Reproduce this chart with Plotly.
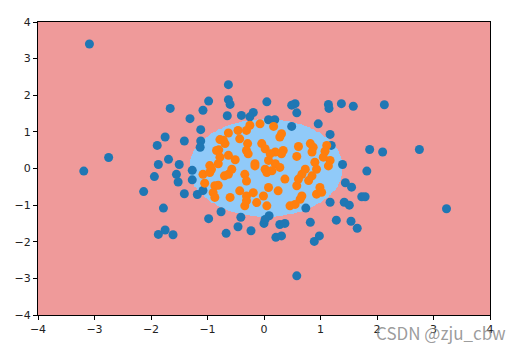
import numpy as np
import plotly.graph_objects as go

# ---- data ----
blue_x = [-3.09, -3.19, -2.75, -2.13, -1.94, -1.87, -1.89, -1.75, -1.66, -1.69, -1.78, -1.87, -1.75, -1.61,
          2.13, 2.10, 2.75, 3.23, -0.63, -0.98, -1.08, -0.63, -0.60, -1.31, -0.65, -0.40, -0.19, -0.25,
          0.05, 0.08, 0.19, -1.12, -1.41, -1.12, -1.13, 0.49, 0.55, 0.58, 1.14, 1.15, 1.37, 1.58,
          0.49, 0.96, 1.17, 1.19, 1.87, -1.50, -1.55, -1.52, -1.27, -1.27, -1.41, -1.18, -1.08,
          -0.76, -0.98, -0.41, -0.46, -0.23, 0.00, -0.67, 1.39, 1.82, 1.44, 1.55, 1.73, 1.79,
          1.17, 1.42, 1.51, 0.74, 0.09, 0.28, 0.37, 0.82, 1.28, 1.54, 1.65, 0.21, 0.31, 0.89, 0.98,
          0.58, 0.02]
blue_y = [3.40, -0.07, 0.30, -0.63, -0.22, 0.11, 0.63, 0.86, 1.64, 0.25, -1.08, -1.80, -1.68, -1.81,
          1.74, 0.45, 0.52, -1.10, 2.29, 1.84, 1.59, 1.88, 1.75, 1.36, 1.44, 1.45, 1.53, 1.41,
          1.82, 1.33, 1.33, 1.06, 0.75, 0.75, 0.58, 1.73, 1.77, 1.52, 1.75, 1.64, 1.77, 1.70,
          1.15, 1.22, 0.93, 0.63, 0.52, 0.11, -0.16, -0.37, -0.05, -0.31, -0.69, -0.71, -0.60,
          -1.18, -1.37, -1.33, -1.59, -1.70, -1.50, -1.77, 0.11, -0.07, -0.39, -0.51, -0.77, -0.77,
          -0.92, -0.92, -1.00, -1.08, -1.29, -1.53, -1.50, -1.47, -1.41, -1.44, -1.63, -1.88, -1.84, -1.99, -1.84,
          -2.93, -1.39]

orange_x = [-0.63, -0.78, -0.69, -0.80, -0.46, -0.43, -0.31, -0.25, -0.29, -0.31, -0.07, -0.04, 0.02,
            -0.63, -0.51, -0.16, -0.81, -0.96, 0.17, 0.31, 0.28, 0.20, 0.34, 0.61, 0.82, 0.87, 0.85,
            1.11, 1.08, 0.58, 0.08, 0.20, 0.90, 1.17, 1.05, -1.08, -0.96, -0.93, -1.05, -0.87, -0.81,
            -0.90, -0.70, -0.63, -0.57, -0.34, -0.31, -0.16, 0.02, 0.05, -0.60, -0.43, -0.31, -0.34,
            -0.19, -0.13, -0.01, 0.05, 0.14, 0.28, 0.08, 0.25, 0.37, 0.58, 0.67, 0.73, 0.61, 0.85,
            1.14, 0.93, 0.99, 0.93, 0.64, 0.67, 0.46, 0.55, -0.78, -0.28, -0.87, -0.31, 0.11, 0.31,
            1.02, 0.79, -0.84, -0.72]
orange_y = [0.97, 0.79, 0.68, 0.51, 1.04, 0.81, 1.04, 1.18, 0.68, 0.49, 1.22, 0.68, 0.54,
            0.36, 0.24, 0.13, 0.13, 0.08, 1.15, 0.95, 0.86, 0.45, 0.49, 0.60, 0.68, 0.58, 0.45,
            0.63, 0.47, 0.33, 0.22, 0.13, 0.17, 0.22, 0.31, -0.16, -0.11, -0.02, -0.40, -0.47, -0.46,
            -0.66, -0.20, -0.16, -0.02, -0.16, -0.34, 0.07, -0.02, -0.11, -0.79, -0.61, -0.75, -1.02,
            -0.66, -0.93, -0.75, -1.02, -0.06, 0.03, -0.52, -0.61, -0.29, -0.47, -0.16, -0.02, -0.29, -0.20,
            0.07, -0.02, -0.52, -0.70, -0.84, -0.75, -1.02, -0.98, 0.31, 0.40, -0.79, -0.88, 0.40, 0.40,
            -0.65, -0.33, 0.49, 0.77]

tick_vals = [-4, -3, -2, -1, 0, 1, 2, 3, 4]

# decision region (model boundary approximated as an ellipse)
cx, cy, rx, ry = 0.04, 0.02, 1.36, 1.33
gx = np.arange(-4.0, 4.0001, 0.02)
gy = np.arange(-4.0, 4.0001, 0.02)
GX, GY = np.meshgrid(gx, gy)
Z = (((GX - cx) / rx) ** 2 + ((GY - cy) / ry) ** 2 < 1).astype(float)

fig = go.Figure()
fig.add_trace(go.Heatmap(
    x=gx, y=gy, z=Z, zmin=0, zmax=1, zsmooth=False, showscale=False, hoverinfo="skip",
    colorscale=[[0, "#EF9A9A"], [0.5, "#EF9A9A"], [0.5, "#90CAF9"], [1, "#90CAF9"]],
))
fig.add_trace(go.Scatter(x=blue_x, y=blue_y, mode="markers",
                         marker=dict(color="#1f77b4", size=9, line=dict(width=0)), showlegend=False))
fig.add_trace(go.Scatter(x=orange_x, y=orange_y, mode="markers",
                         marker=dict(color="#ff7f0e", size=9, line=dict(width=0)), showlegend=False))

axis_common = dict(range=[-4, 4], tickvals=tick_vals, ticks="outside", ticklen=4, tickwidth=1,
                   tickcolor="#000", showline=True, linecolor="#000", linewidth=1, mirror=True,
                   showgrid=False, zeroline=False,
                   tickfont=dict(family="DejaVu Sans", size=11, color="#222"))
fig.update_xaxes(**axis_common)
fig.update_yaxes(**axis_common)

fig.add_annotation(text="CSDN @zju_cbw", xref="paper", yref="paper", x=1.04, y=-0.06,
                   xanchor="right", yanchor="middle", showarrow=False,
                   font=dict(family="Noto Sans CJK SC", size=17, color="rgba(130,130,130,0.8)"))

fig.update_layout(width=524, height=351, margin=dict(l=38, r=34, t=22, b=36),
                  paper_bgcolor="white", plot_bgcolor="white")
fig.write_html("out.html", config={"displayModeBar": False},
               post_script="document.body.style.margin='0';document.body.style.overflow='hidden';")
